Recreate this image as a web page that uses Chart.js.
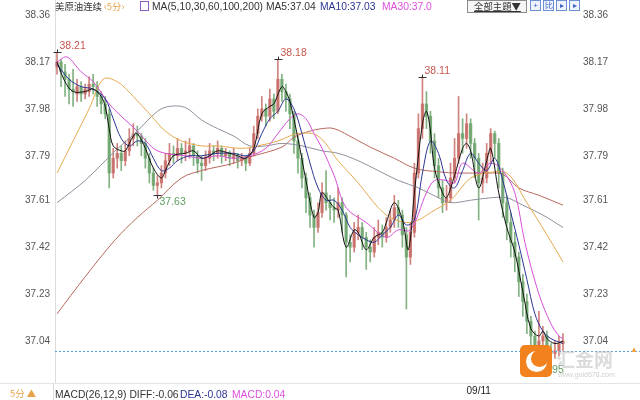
<!DOCTYPE html>
<html>
<head>
<meta charset="utf-8">
<script src="https://cdn.jsdelivr.net/npm/chart.js@4.4.1/dist/chart.umd.min.js"></script>
<style>
  body { margin: 0; background: #fff; }
  #wrap { position: relative; width: 640px; height: 400px; overflow: hidden; font-family: "Liberation Sans", Arial, sans-serif; }
  #wrap canvas { position: absolute; left: 0; top: 0; }
  .t { position: absolute; white-space: nowrap; font-size: 10.3px; line-height: 12px; color: #333; }
  .cjk { font-family: "Noto Sans CJK SC", sans-serif; font-size: 9.4px; }
  .btn { position: absolute; top: 0; height: 11px; border: 1px solid #8c8c8c; background: #f6f6f6; }
  .ico { position: absolute; top: 0; width: 9px; height: 9px; border: 1px solid #6d8fd6; background: #eef3fd; color: #3a62c0; font-size: 8px; line-height: 9px; text-align: center; }
</style>
</head>
<body>
<div id="wrap">
  <canvas id="c" width="640" height="400"></canvas>

  <div class="t cjk" style="left:55px;top:0">美原油连续</div>
  <div class="t cjk" style="left:104px;top:0;color:#e8a24a">‹5分›</div>
  <div style="position:absolute;left:140px;top:1px;width:7px;height:8px;border:1px solid #8b5cc2"></div>
  <div class="t" style="left:152px;top:1px">MA(5,10,30,60,100,200) MA5:37.04</div>
  <div class="t" style="left:320px;top:1px;color:#2b3592">MA10:37.03</div>
  <div class="t" style="left:382px;top:1px;color:#dd4fdd">MA30:37.0</div>
  <div class="btn" style="left:467px;width:58px"></div>
  <div class="t cjk" style="left:474px;top:0;text-decoration:underline">全部主題▼</div>
  <div class="ico" style="left:530px">+</div>
  <div class="ico" style="left:543px">比</div>
  <div class="ico" style="left:556px">▸</div>
  <div class="ico" style="left:569px">▸</div>

  <div style="position:absolute;left:0;top:383px;width:640px;height:1px;background:#e4e4e4"></div>
  <div style="position:absolute;left:53px;top:383px;width:1px;height:17px;background:#dcdcdc"></div>
  <div class="t cjk" style="left:10px;top:387px;color:#e8a24a">5分 ▲</div>
  <div class="t" style="left:55px;top:389px">MACD(26,12,9) DIFF:-0.06</div>
  <div class="t" style="left:180px;top:389px;color:#2b3592">DEA:-0.08</div>
  <div class="t" style="left:232px;top:389px;color:#dd4fdd">MACD:0.04</div>

  <div style="position:absolute;left:520px;top:345px;width:32px;height:32px;border-radius:5px;background:#f2821e;overflow:hidden">
    <div style="position:absolute;left:6px;top:6px;width:21px;height:21px;border-radius:50%;background:#fff"></div>
    <div style="position:absolute;left:11px;top:5px;width:17px;height:17px;border-radius:50%;background:#f2821e"></div>
  </div>
  <div class="t cjk" style="left:556px;top:348px;font-size:19px;line-height:22px;color:rgba(190,190,190,0.55);font-weight:bold">汇金网</div>
  <div class="t" style="left:558px;top:369px;font-size:7px;color:#cfcfcf">www.gold678.com</div>
  <div class="t" style="left:630px;top:344px;font-size:8px;color:#f2a040">▲</div>
</div>

<script>
// price axis ticks (same on both sides)
const yTicks = [38.36, 38.17, 37.98, 37.79, 37.61, 37.42, 37.23, 37.04];
// date label under the x axis
const dayTickIdx = [105];
const dayTickLabels = ["09/11"];

// 5-minute candles
const opens = [38.15,38.17,38.13,38.10,38.06,38.04,38.07,38.04,38.05,38.08,38.07,38.03,38.00,37.96,37.72,37.78,37.80,37.77,37.81,37.86,
  37.88,37.87,37.84,37.78,37.72,37.67,37.68,37.72,37.77,37.80,37.79,37.82,37.80,37.81,37.83,37.79,37.76,37.75,37.78,37.81,
  37.80,37.82,37.79,37.80,37.78,37.79,37.77,37.78,37.76,37.80,37.88,37.95,37.98,37.95,38.02,37.97,38.10,38.05,38.02,37.96,
  37.85,37.78,37.70,37.62,37.55,37.50,37.56,37.64,37.60,37.58,37.57,37.60,37.55,37.44,37.42,37.48,37.50,37.46,37.42,37.40,
  37.46,37.48,37.46,37.50,37.53,37.58,37.55,37.47,37.38,37.48,37.72,37.90,38.00,37.95,37.85,37.75,37.66,37.60,37.62,37.70,
  37.78,37.88,37.86,37.92,37.84,37.78,37.68,37.70,37.80,37.88,37.84,37.72,37.60,37.52,37.44,37.38,37.28,37.20,37.12,37.06,
  37.02,37.04,37.06,37.00,36.99,37.00,37.03];
const closes = [38.17,38.13,38.10,38.06,38.05,38.07,38.04,38.06,38.08,38.07,38.03,38.00,37.96,37.72,37.78,37.80,37.77,37.81,37.86,37.88,
  37.87,37.84,37.78,37.72,37.67,37.68,37.72,37.77,37.80,37.79,37.82,37.80,37.81,37.83,37.79,37.76,37.75,37.78,37.81,37.80,
  37.82,37.79,37.80,37.78,37.79,37.77,37.78,37.76,37.80,37.88,37.95,37.98,37.95,38.02,37.97,38.10,38.05,38.02,37.96,37.85,
  37.78,37.70,37.62,37.55,37.50,37.56,37.64,37.60,37.58,37.57,37.60,37.55,37.44,37.42,37.48,37.50,37.46,37.42,37.40,37.46,
  37.48,37.46,37.50,37.53,37.58,37.55,37.47,37.38,37.48,37.72,37.90,38.00,37.95,37.85,37.75,37.66,37.60,37.62,37.70,37.78,
  37.88,37.86,37.92,37.84,37.78,37.68,37.70,37.80,37.88,37.84,37.72,37.60,37.52,37.44,37.38,37.28,37.20,37.12,37.06,37.02,
  37.04,37.06,37.00,36.99,37.00,37.03,37.04];
const highs = [38.21,38.18,38.16,38.12,38.14,38.10,38.09,38.08,38.11,38.12,38.09,38.05,38.03,37.98,37.82,37.84,37.83,37.85,37.90,37.92,
  37.91,37.88,37.86,37.80,37.74,37.71,37.75,37.80,37.84,37.83,37.86,37.84,37.85,37.86,37.84,37.81,37.79,37.81,37.84,37.83,
  37.85,37.83,37.82,37.81,37.82,37.80,37.80,37.79,37.82,37.91,37.98,38.03,38.00,38.06,38.04,38.18,38.12,38.08,38.04,37.97,
  37.87,37.80,37.72,37.64,37.57,37.60,37.68,37.73,37.63,37.62,37.66,37.62,37.56,37.47,37.52,37.55,37.52,37.48,37.45,37.50,
  37.53,37.51,37.54,37.57,37.63,37.61,37.57,37.50,37.52,37.76,37.96,38.11,38.05,37.97,37.88,37.78,37.69,37.67,37.76,37.86,
  38.03,37.94,37.96,37.94,37.86,37.80,37.76,37.84,37.90,37.89,37.86,37.74,37.63,37.56,37.48,37.40,37.31,37.23,37.14,37.08,
  37.16,37.10,37.08,37.03,37.04,37.06,37.07];
const lows = [38.12,38.07,38.03,38.00,37.99,38.01,38.01,38.02,38.03,38.04,37.99,37.96,37.94,37.66,37.70,37.74,37.73,37.75,37.79,37.83,
  37.83,37.79,37.74,37.68,37.65,37.63,37.66,37.70,37.75,37.76,37.77,37.76,37.77,37.78,37.75,37.72,37.69,37.73,37.76,37.77,
  37.78,37.76,37.77,37.75,37.76,37.74,37.75,37.73,37.75,37.79,37.86,37.93,37.91,37.93,37.94,37.96,38.01,37.97,37.90,37.80,
  37.72,37.66,37.56,37.50,37.42,37.48,37.54,37.57,37.53,37.52,37.54,37.48,37.30,37.36,37.40,37.45,37.41,37.33,37.36,37.38,
  37.43,37.42,37.44,37.48,37.50,37.50,37.42,37.17,37.35,37.46,37.70,37.86,37.90,37.80,37.70,37.62,37.56,37.57,37.60,37.68,
  37.76,37.80,37.82,37.78,37.70,37.53,37.64,37.68,37.76,37.78,37.66,37.54,37.45,37.38,37.32,37.22,37.14,37.07,37.01,36.95,
  36.99,37.01,36.97,36.96,36.97,36.98,37.00];

// marked extremes (candle index)
const peakIdx = [0, 55, 91];
const troughIdx = [25, 119];
const currentPrice = 37.00;

// moving averages as [candle index, value]
const ma5 = [[0,38.17],[2,38.09],[4,38.05],[7,38.05],[9,38.06],[11,38.03],[12,37.99],[13,37.90],[14,37.83],[16,37.81],[17,37.81],
  [19,37.87],[20,37.88],[22,37.82],[24,37.74],[26,37.70],[27,37.73],[29,37.79],[32,37.80],[34,37.81],[36,37.78],[38,37.79],
  [40,37.81],[43,37.80],[45,37.79],[47,37.78],[49,37.82],[51,37.96],[53,37.99],[54,38.00],[56,38.07],[57,38.05],[58,38.01],
  [60,37.86],[62,37.69],[64,37.54],[65,37.56],[66,37.64],[68,37.60],[69,37.58],[70,37.57],[72,37.42],[74,37.49],[75,37.48],
  [77,37.41],[79,37.46],[81,37.48],[82,37.52],[84,37.60],[86,37.53],[87.5,37.41],[89,37.64],[91,37.92],[92,37.97],[93,37.89],
  [94,37.74],[96,37.64],[97,37.62],[99,37.71],[101,37.82],[102,37.84],[103,37.81],[105,37.66],[107,37.77],[108,37.82],
  [110,37.64],[112,37.50],[114,37.40],[116,37.24],[118,37.09],[120,37.06],[121,37.08],[122,37.05],[124,37.03],[126,37.04]];
const ma10 = [[0,38.16],[3,38.10],[6,38.07],[9,38.06],[12,38.02],[14,37.94],[16,37.86],[18,37.83],[20,37.85],[22,37.84],[24,37.78],
  [26,37.73],[28,37.74],[30,37.77],[33,37.79],[36,37.79],[40,37.80],[44,37.80],[47,37.79],[49,37.81],[51,37.88],[53,37.94],
  [55,37.97],[57,38.02],[59,37.98],[61,37.88],[63,37.76],[65,37.66],[67,37.61],[69,37.61],[71,37.57],[73,37.50],[75,37.47],
  [77,37.45],[79,37.44],[81,37.47],[83,37.50],[85,37.55],[87,37.51],[89,37.53],[91,37.72],[93,37.85],[95,37.80],[97,37.69],
  [99,37.66],[101,37.73],[103,37.80],[105,37.76],[107,37.73],[109,37.78],[111,37.69],[113,37.56],[115,37.43],[117,37.29],
  [119,37.15],[121,37.08],[123,37.05],[126,37.03]];
const ma30 = [[0,38.17],[2.5,38.19],[6,38.13],[9,38.09],[13,38.00],[16,37.95],[20,37.89],[24,37.82],[27,37.80],[32,37.79],[36,37.78],
  [40,37.79],[44,37.78],[48,37.79],[52,37.82],[55,37.88],[58,37.94],[60,37.96],[62,37.94],[64,37.88],[66,37.82],[69,37.71],
  [72,37.58],[77,37.52],[82,37.46],[85,37.49],[88,37.49],[92,37.64],[94,37.69],[97,37.69],[99,37.68],[101,37.76],[105,37.72],
  [108,37.76],[111,37.73],[114,37.64],[116.5,37.44],[120,37.23],[123,37.11],[125,37.06],[126,37.05]];
const ma60 = [[0,37.72],[4,37.85],[8,37.98],[11.5,38.10],[15,38.09],[19,38.03],[23,37.96],[27,37.89],[31,37.85],[36,37.83],
  [40,37.83],[46,37.82],[50,37.83],[55,37.85],[60,37.88],[65,37.87],[70,37.77],[75,37.68],[80,37.58],[83,37.54],[87,37.52],
  [90,37.53],[93,37.56],[98,37.61],[103,37.70],[107,37.72],[112,37.72],[117,37.60],[122,37.47],[126,37.36]];
const ma100 = [[0,37.60],[7,37.69],[14.5,37.81],[20,37.89],[25,37.97],[28,37.99],[32,37.985],[36,37.935],[40,37.90],[44,37.87],
  [48,37.83],[52,37.83],[56,37.84],[61,37.83],[66,37.81],[70,37.80],[75,37.77],[80,37.73],[85,37.69],[90,37.66],[95,37.62],
  [98,37.60],[103,37.61],[108,37.62],[112,37.62],[116,37.59],[121,37.55],[126,37.50]];
const ma200 = [[0,37.15],[7,37.30],[14.5,37.45],[20,37.54],[25,37.61],[31,37.70],[36,37.73],[44,37.76],[48,37.785],[56,37.825],
  [59,37.865],[63,37.89],[66,37.90],[69,37.90],[74,37.86],[78,37.825],[84,37.78],[89,37.74],[95,37.725],[100,37.72],
  [107,37.72],[111,37.715],[115,37.66],[120,37.63],[126,37.59]];

const UP = "rgba(200,108,102,0.85)";
const DOWN = "rgba(108,165,108,0.85)";
const candleColors = closes.map((c, i) => c >= opens[i] ? UP : DOWN);

function maLine(points, color) {
  return {
    type: "line",
    data: points.map(p => ({ x: p[0], y: p[1] })),
    borderColor: color,
    borderWidth: 1,
    pointRadius: 0,
    tension: 0.35,
    fill: false,
    order: 0
  };
}

const marks = {
  id: "marks",
  afterDatasetsDraw(chart) {
    const { ctx, scales: { x, y } } = chart;
    ctx.save();
    // current price dotted line
    const cy = Math.round(y.getPixelForValue(currentPrice)) + 0.5;
    ctx.strokeStyle = "#5aa2dc";
    ctx.lineWidth = 1;
    ctx.setLineDash([2, 2]);
    ctx.beginPath();
    ctx.moveTo(chart.chartArea.left, cy);
    ctx.lineTo(640, cy);
    ctx.stroke();
    ctx.setLineDash([]);

    ctx.font = "10.5px 'Liberation Sans', Arial, sans-serif";
    ctx.textAlign = "left";
    ctx.strokeStyle = "#333";
    peakIdx.forEach(i => {
      const px = Math.round(x.getPixelForValue(i)) + 0.5;
      const py = Math.round(y.getPixelForValue(highs[i])) + 0.5;
      ctx.beginPath();
      ctx.moveTo(px - 4, py); ctx.lineTo(px + 4, py);
      ctx.moveTo(px, py - 3); ctx.lineTo(px, py);
      ctx.stroke();
      ctx.fillStyle = "#c9574f";
      ctx.textBaseline = "bottom";
      ctx.fillText(highs[i].toFixed(2), px + 2, py - 1);
    });
    troughIdx.forEach(i => {
      const px = Math.round(x.getPixelForValue(i)) + 0.5;
      const py = Math.round(y.getPixelForValue(lows[i])) + 0.5;
      ctx.beginPath();
      ctx.moveTo(px - 4, py); ctx.lineTo(px + 4, py);
      ctx.moveTo(px, py); ctx.lineTo(px, py + 3);
      ctx.stroke();
      ctx.fillStyle = "#5e9e5e";
      ctx.textBaseline = "top";
      ctx.fillText(lows[i].toFixed(2), px + 2, py + 1);
    });
    ctx.restore();
  }
};

// axes: fixed widths, and no extra padding so the plot fills 0..383 vertically
function fixBox(w, h) {
  return s => {
    if (w) s.width = w;
    if (h) s.height = h;
    s.paddingTop = 0; s.paddingBottom = 0; s.paddingLeft = 0; s.paddingRight = 0;
  };
}

const yAxisBase = {
  type: "linear",
  min: 36.8701,
  max: 38.4207,
  grid: { display: false, drawTicks: false },
  afterBuildTicks: s => { s.ticks = yTicks.map(v => ({ value: v })); },
  ticks: {
    color: "#555",
    font: { size: 10 },
    callback: v => v.toFixed(2)
  }
};

new Chart(document.getElementById("c"), {
  type: "bar",
  data: {
    datasets: [
      maLine(ma5, "#111111"),
      maLine(ma10, "#2b3592"),
      maLine(ma30, "#d64fd6"),
      maLine(ma60, "#e6a84e"),
      maLine(ma100, "#8f8f9d"),
      maLine(ma200, "#b8685f"),
      {
        label: "body",
        data: opens.map((o, i) => ({ x: i, y: [o, closes[i]] })),
        backgroundColor: candleColors,
        barThickness: 2.6,
        minBarLength: 1,
        grouped: false,
        order: 1
      },
      {
        label: "wick",
        data: lows.map((l, i) => ({ x: i, y: [l, highs[i]] })),
        backgroundColor: candleColors,
        barThickness: 1,
        grouped: false,
        order: 2
      }
    ]
  },
  options: {
    responsive: false,
    animation: false,
    devicePixelRatio: 1,
    layout: { padding: 0, autoPadding: false },
    plugins: { legend: { display: false }, tooltip: { enabled: false } },
    scales: {
      x: {
        type: "linear",
        min: -0.5,
        max: closes.length - 0.5,
        offset: false,
        grid: { display: false, drawTicks: false },
        border: { display: false },
        afterFit: fixBox(0, 17),
        afterBuildTicks: s => { s.ticks = dayTickIdx.map(v => ({ value: v })); },
        ticks: {
          color: "#222",
          font: { size: 10 },
          padding: 2,
          autoSkip: false,
          maxRotation: 0,
          callback: v => dayTickLabels[dayTickIdx.indexOf(v)]
        }
      },
      y: Object.assign({}, yAxisBase, {
        position: "left",
        border: { display: true, color: "#dcdcdc" },
        afterFit: fixBox(55, 0),
        ticks: Object.assign({}, yAxisBase.ticks, { padding: 5 })
      }),
      y2: Object.assign({}, yAxisBase, {
        position: "right",
        border: { display: false },
        afterFit: fixBox(75, 0),
        ticks: Object.assign({}, yAxisBase.ticks, { padding: 18 })
      })
    }
  },
  plugins: [marks]
});
</script>
</body>
</html>
